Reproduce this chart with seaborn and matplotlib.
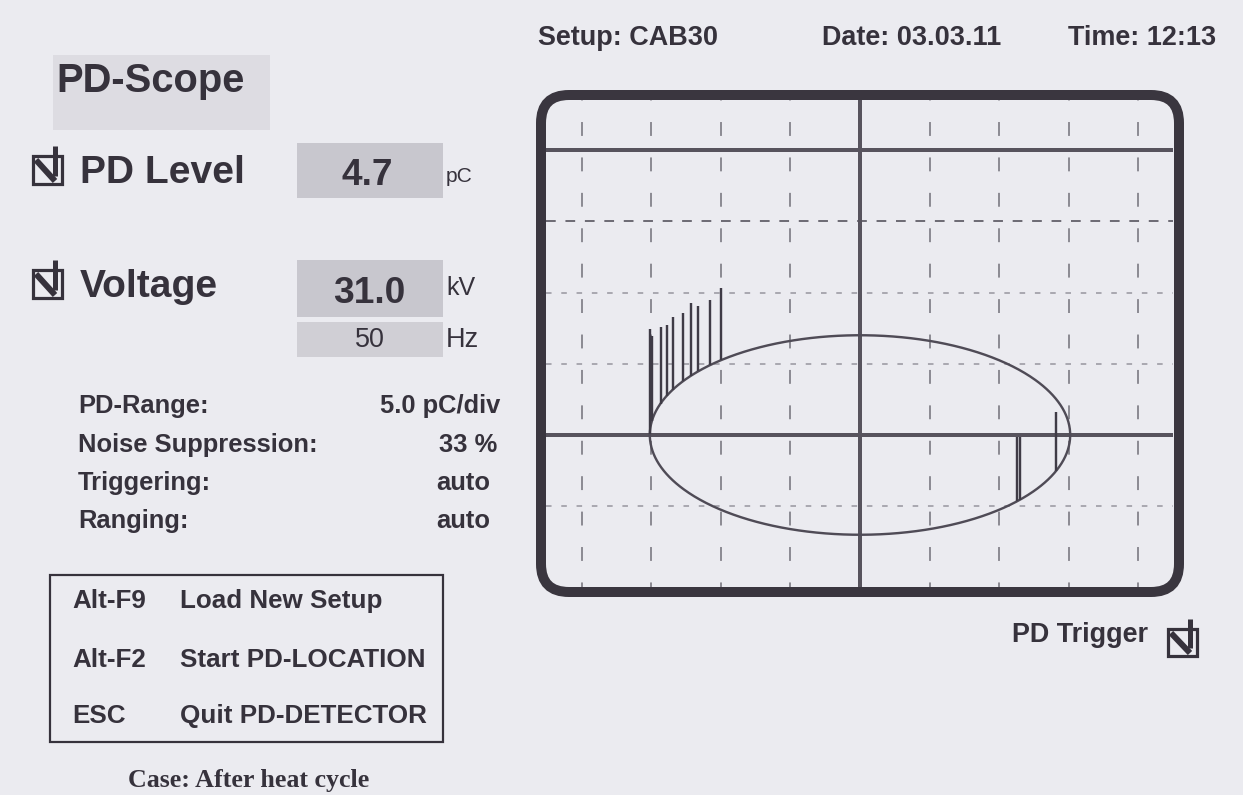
import numpy as np
import pandas as pd
import matplotlib
matplotlib.use("Agg")
import matplotlib.pyplot as plt
from matplotlib.patches import FancyBboxPatch, Rectangle
import seaborn as sns

# ---------------- instrument readings ----------------
setup_name = "CAB30"
date_str = "03.03.11"
time_str = "12:13"
pd_level_pc = 4.7
voltage_kv = 31.0
frequency_hz = 50
pd_range_pc_per_div = 5.0
noise_suppression_pct = 33
triggering_mode = "auto"
ranging_mode = "auto"
hotkeys = ["Alt-F9", "Alt-F2", "ESC"]
hotkey_actions = ["Load New Setup", "Start PD-LOCATION", "Quit PD-DETECTOR"]
case_label = "Case: After heat cycle"

# elliptical time base of the test voltage (in screen divisions)
ellipse_half_width_div = 3.02
ellipse_half_height_div = 1.40

# discharge pulses: phase position on the ellipse (deg) and apparent charge (pC)
pulse_phase_deg = [0.5, 8.0, 18.4, 23.0, 26.9, 32.5, 36.4, 39.6, 44.4, 48.5,
                   201.1, 220.4, 221.6]
pulse_charge_pc = [7.4, 6.0, 5.4, 5.0, 5.1, 4.8, 5.1, 4.6, 4.6, 5.1,
                   4.1, 4.4, 4.5]

# ---------------- styling ----------------
W, H = 1243, 795
PX = 0.72                      # points per pixel at 100 dpi
BG = "#ebebf0"
INK = "#36323c"
GRID = "#6f6d76"

sns.set_theme(style="white")
plt.rcParams["font.family"] = ["Liberation Sans", "DejaVu Sans"]
plt.rcParams["lines.scale_dashes"] = False

fig = plt.figure(figsize=(W / 100, H / 100), dpi=100, facecolor=BG)

# page layer in pixel units
bg = fig.add_axes([0, 0, 1, 1], zorder=0)
bg.set_xlim(0, W)
bg.set_ylim(H, 0)
bg.axis("off")
bg.set_facecolor(BG)

# ---------------- scope screen ----------------
x_center, y_axis = 860, 435          # screen origin (px)
div_x, div_y = 69.6, 71.25           # px per division
inner_l, inner_r, inner_t, inner_b = 546, 1173, 100, 588

sc = fig.add_axes([inner_l / W, 1 - inner_b / H,
                   (inner_r - inner_l) / W, (inner_b - inner_t) / H], zorder=2)
sc.set_facecolor("none")
sc.set_xlim((inner_l - x_center) / div_x, (inner_r - x_center) / div_x)
sc.set_ylim((y_axis - inner_b) / div_y, (y_axis - inner_t) / div_y)
for s in sc.spines.values():
    s.set_visible(False)
sc.set_xticks([])
sc.set_yticks([])

# graticule
for k in [-4, -3, -2, -1, 1, 2, 3, 4]:
    sc.axvline(k, color=GRID, lw=1.5 * PX, ls=(6, (10, 15.5)), zorder=1)
sc.axhline(3, color=GRID, lw=2.0 * PX, ls=(0, (7, 7)), zorder=1)
for k in [2, 1, -1]:
    sc.axhline(k, color="#9b99a2", lw=1.6 * PX, ls=(0, (4, 7)), zorder=1)
sc.axhline(4, color="#57535d", lw=4 * PX, zorder=2)
sc.axhline(0, color="#57535d", lw=4 * PX, zorder=2)
sc.axvline(0, color="#57535d", lw=4 * PX, zorder=2)

# voltage ellipse
phase = np.linspace(0, 360, 721)
trace = pd.DataFrame({
    "x": -ellipse_half_width_div * np.cos(np.radians(phase)),
    "y": ellipse_half_height_div * np.sin(np.radians(phase)),
})
sns.lineplot(data=trace, x="x", y="y", sort=False, estimator=None,
             color="#4f4b56", lw=2.4 * PX, ax=sc, zorder=3)
sc.set_xlabel("")
sc.set_ylabel("")

# discharge pulses sitting on the ellipse
ph = np.radians(np.array(pulse_phase_deg))
pulse_x = -ellipse_half_width_div * np.cos(ph)
base = ellipse_half_height_div * np.sin(ph)
height = np.array(pulse_charge_pc) / pd_range_pc_per_div
sc.vlines(pulse_x, base, base + height, color="#3f3b46", lw=2.4 * PX, zorder=4)

# rounded bezel
frame = FancyBboxPatch((541, 95), 638, 497,
                       boxstyle="round,pad=0,rounding_size=28",
                       fc="none", ec="#3a363f", lw=10 * PX,
                       transform=bg.transData, clip_on=False, zorder=5)
sc.add_patch(frame)


# ---------------- left panel ----------------
def checkbox(ax, x, y, w=29, h=28):
    ax.add_patch(Rectangle((x, y), w, h, fill=False, ec=INK, lw=3.2 * PX, zorder=3))
    ax.plot([x + 3, x + w - 7], [y + 4, y + h - 3], color=INK, lw=6 * PX,
            solid_capstyle="butt", zorder=3)
    ax.plot([x + w - 7, x + w - 7], [y - 10, y + h * 0.7], color=INK, lw=5 * PX,
            solid_capstyle="butt", zorder=3)


def txt(x, y, s, size_px, ha="left", weight="bold", **kw):
    bg.text(x, y, s, fontsize=size_px * PX, ha=ha, va="baseline",
            color=INK, fontweight=weight, **kw)


# title with shaded plate
bg.add_patch(Rectangle((53, 55), 217, 75, fc="#dddce2", ec="none", zorder=1))
txt(56, 92, "PD-Scope", 40)

# PD level
checkbox(bg, 33, 156)
txt(80, 183, "PD Level", 39)
bg.add_patch(Rectangle((297, 143), 146, 55, fc="#c8c7ce", ec="none", zorder=1))
txt(367, 185, f"{pd_level_pc:.1f}", 37, ha="center")
txt(446, 182, "pC", 21, weight="normal")

# voltage
checkbox(bg, 33, 270)
txt(80, 297, "Voltage", 39)
bg.add_patch(Rectangle((297, 260), 146, 57, fc="#c8c7ce", ec="none", zorder=1))
txt(369, 303, f"{voltage_kv:.1f}", 37, ha="center")
txt(446, 295, "kV", 25, weight="normal")
bg.add_patch(Rectangle((297, 322), 146, 35, fc="#d0cfd5", ec="none", zorder=1))
txt(370, 347, f"{frequency_hz}", 27, ha="center", weight="normal")
txt(446, 347, "Hz", 27, weight="normal")

# settings list
labels = ["PD-Range:", "Noise Suppression:", "Triggering:", "Ranging:"]
values = [f"{pd_range_pc_per_div:.1f} pC/div", f"{noise_suppression_pct} %",
          triggering_mode, ranging_mode]
right_edges = [500, 497, 490, 490]
baselines = [413, 452, 490, 528]
for lab, val, xr, yb in zip(labels, values, right_edges, baselines):
    txt(78, yb, lab, 25.5)
    txt(xr, yb, val, 25.5, ha="right")

# hot-key box
bg.add_patch(Rectangle((50, 575), 393, 167, fill=False, ec=INK, lw=2.2 * PX, zorder=2))
for key, act, yb in zip(hotkeys, hotkey_actions, [608, 667, 723]):
    txt(72, yb, key, 26)
    txt(180, yb, act, 26)

# caption at the foot of the page
bg.text(128, 787, case_label, fontsize=26 * PX, ha="left", va="baseline",
        color=INK, fontweight="bold", family=["Liberation Serif", "DejaVu Serif"])

# ---------------- header and trigger ----------------
txt(538, 45, f"Setup: {setup_name}", 27)
txt(822, 45, f"Date: {date_str}", 27)
txt(1216, 45, f"Time: {time_str}", 27, ha="right")

txt(1012, 642, "PD Trigger", 27)
checkbox(bg, 1168, 629, w=29, h=27)

fig.savefig("out.png", dpi=100, facecolor=BG)
